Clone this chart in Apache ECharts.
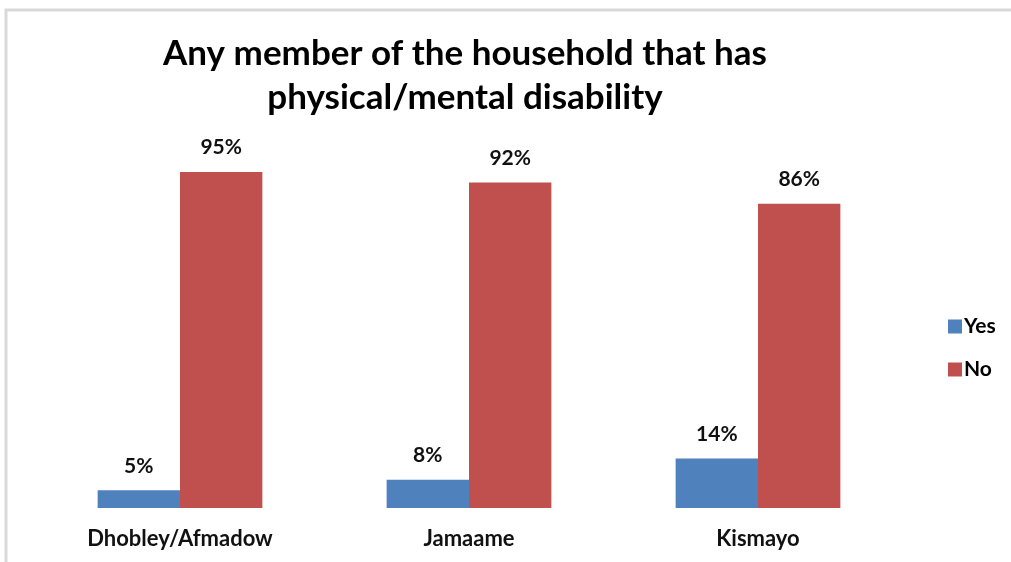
<!DOCTYPE html>
<html>
<head>
<meta charset="utf-8">
<script src="https://cdn.jsdelivr.net/npm/echarts@6/dist/echarts.min.js"></script>
<style>
  html, body { margin: 0; padding: 0; background: #ffffff; }
  #chart { width: 1011px; height: 562px; }
</style>
</head>
<body>
<div id="chart"></div>
<script>
// Share of households with a member who has a physical/mental disability
const categories = ['Dhobley/Afmadow', 'Jamaame', 'Kismayo'];
const yesValues = [5, 8, 14];
const noValues = [95, 92, 86];
const titleText = 'Any member of the household that has\nphysical/mental disability';

const FONT = 'Lato, "Open Sans", sans-serif';

const chart = echarts.init(document.getElementById('chart'), null, { renderer: 'canvas' });

const labelStyle = {
  show: true,
  position: 'top',
  distance: 14,
  formatter: '{c}%',
  fontFamily: FONT,
  fontWeight: 'bold',
  fontSize: 21,
  color: '#111111'
};

chart.setOption({
  backgroundColor: '#ffffff',
  animation: false,
  graphic: [{
    type: 'rect',
    silent: true,
    shape: { x: 6, y: 10, width: 1040, height: 600 },
    style: { fill: 'none', stroke: '#d9d9d9', lineWidth: 3 }
  }],
  title: {
    text: titleText,
    left: 460,
    top: 27,
    textAlign: 'center',
    textStyle: {
      fontFamily: FONT,
      fontWeight: 'bold',
      fontSize: 35,
      lineHeight: 44,
      color: '#000000'
    }
  },
  legend: {
    orient: 'vertical',
    left: 943,
    top: 311,
    itemWidth: 14,
    itemHeight: 14,
    itemGap: 22,
    icon: 'rect',
    data: ['Yes', 'No'],
    textStyle: {
      fontFamily: FONT,
      fontWeight: 'bold',
      fontSize: 21,
      color: '#000000',
      padding: [0, 0, 0, -3]
    }
  },
  grid: {
    left: 35.5,
    width: 867,
    top: 154.3,
    bottom: 54,
    containLabel: false
  },
  xAxis: {
    type: 'category',
    data: categories,
    axisLine: { show: false },
    axisTick: { show: false },
    axisLabel: {
      margin: 20,
      fontFamily: FONT,
      fontWeight: 'bold',
      fontSize: 22,
      color: '#111111'
    }
  },
  yAxis: {
    type: 'value',
    min: 0,
    max: 100,
    show: false,
    splitLine: { show: false }
  },
  series: [
    {
      name: 'Yes',
      type: 'bar',
      data: yesValues,
      barGap: '0%',
      barCategoryGap: '43%',
      itemStyle: { color: '#4F81BD' },
      label: labelStyle
    },
    {
      name: 'No',
      type: 'bar',
      data: noValues,
      barGap: '0%',
      barCategoryGap: '43%',
      itemStyle: { color: '#C0504D' },
      label: labelStyle
    }
  ]
});
</script>
</body>
</html>
